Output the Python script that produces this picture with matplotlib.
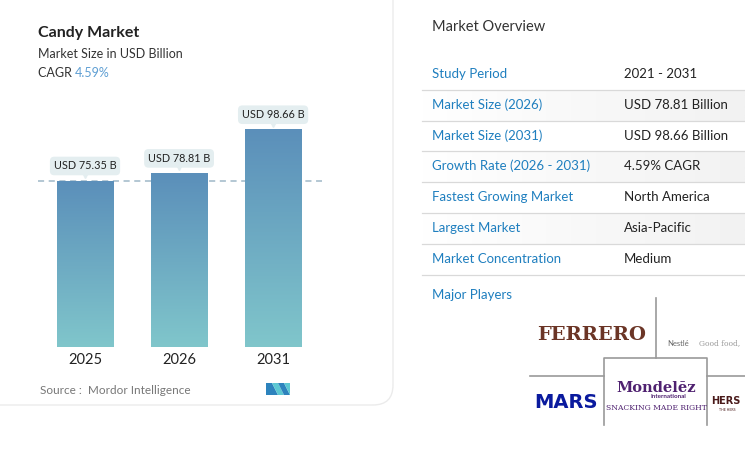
import numpy as np
import matplotlib
matplotlib.use("Agg")
import matplotlib.pyplot as plt
from matplotlib.patches import FancyBboxPatch, Polygon
from matplotlib.colors import LinearSegmentedColormap
from matplotlib.transforms import ScaledTranslation

# ---------------- data ----------------
years = ["2025", "2026", "2031"]
values = [75.35, 78.81, 98.66]
value_labels = ["USD 75.35 B", "USD 78.81 B", "USD 98.66 B"]
title = "Candy Market"
subtitle = "Market Size in USD Billion"
cagr = "4.59%"
source = "Source :  Mordor Intelligence"

overview_keys = ["Study Period", "Market Size (2026)", "Market Size (2031)",
                 "Growth Rate (2026 - 2031)", "Fastest Growing Market",
                 "Largest Market", "Market Concentration"]
overview_vals = ["2021 - 2031", "USD 78.81 Billion", "USD 98.66 Billion",
                 "4.59% CAGR", "North America", "Asia-Pacific", "Medium"]

FONT = "Lato"
W, H = 745, 450
fig = plt.figure(figsize=(W / 100, H / 100), dpi=100)
fig.patch.set_facecolor("white")

# pixel-coordinate overlay for layout
bg = fig.add_axes([0, 0, 1, 1])
bg.axis("off")

# card
card = FancyBboxPatch((-30, -30), 423, 435, boxstyle="round,pad=0,rounding_size=20",
                      fc="white", ec="#ebebeb", lw=1.0, zorder=0)
bg.add_patch(card)

# header texts
bg.text(38, 33, title, fontsize=11.5, fontweight="bold", color="#222222",
        family=FONT, va="center", ha="left")
bg.text(38, 54, subtitle, fontsize=9, color="#333333", family=FONT, va="center")
t = bg.text(38, 73, "CAGR ", fontsize=9, color="#333333", family=FONT, va="center")
fig.canvas.draw()
bb = t.get_window_extent()
bg.text(38 + bb.width, 73, cagr, fontsize=9, color="#5f9fd3", family=FONT, va="center")

# ---------------- bar axes ----------------
px_per_unit = 2.1995
base_px, top_px = 347, 100
left_px, right_px = 38, 322
ax = fig.add_axes([left_px / W, (H - base_px) / H, (right_px - left_px) / W,
                   (base_px - top_px) / H])
ax.set_xlim(-0.5, 2.52)
ax.set_ylim(0, (base_px - top_px) / px_per_unit)
ax.axis("off")
ax.patch.set_alpha(0)

cmap = LinearSegmentedColormap.from_list("g", ["#80c6cb", "#5b8fba"])
grad = np.linspace(0, 1, 256).reshape(-1, 1)
bw = 0.596
xs = np.arange(len(years))
for x, v, lab in zip(xs, values, value_labels):
    ax.imshow(grad, extent=[x - bw / 2, x + bw / 2, 0, v], origin="lower",
              cmap=cmap, aspect="auto", zorder=2)
    ax.annotate(lab, (x, v), xytext=(0, 11), textcoords="offset points",
                ha="center", va="center", fontsize=7.8, color="#222222", family=FONT,
                bbox=dict(boxstyle="round,pad=0.35,rounding_size=0.4", fc="#e4eef0",
                          ec="none"), zorder=5)
    ax.plot([x], [v], marker="v", markersize=5, color="#e4eef0",
            transform=ax.transData + ScaledTranslation(0, 4.5 / 72, fig.dpi_scale_trans),
            zorder=4, clip_on=False)
    ax.text(x, 0, years[x], transform=ax.transData + ScaledTranslation(
        0, -9.5 / 72, fig.dpi_scale_trans), ha="center", va="center", fontsize=10.5,
        color="#222222", family=FONT)
ax.axhline(values[0], color="#9fb8c8", lw=1.1, ls=(0, (4, 3)), zorder=1)

# source + logo
bg.text(40, 390, source, fontsize=8.5, color="#777777", family=FONT, va="center")
logo = [
    ([(266, 395), (266, 383), (272, 383), (278, 395)], "#2d83bd"),
    ([(272, 383), (278, 383), (284, 395), (278, 395)], "#5cc8d2"),
    ([(278, 383), (284, 383), (290, 395), (284, 395)], "#2d83bd"),
    ([(284, 383), (290, 383), (290, 395)], "#5cc8d2"),
]
for pts, c in logo:
    bg.add_patch(Polygon(pts, closed=True, fc=c, ec="none"))

# ---------------- right panel ----------------
bg.text(432, 27, "Market Overview", fontsize=10.5, color="#333333", family=FONT,
        va="center")
row_y = [74, 105, 136, 166, 197, 228, 259]
sep_y = [90, 121, 151, 182, 213, 244, 275]
hgrad = np.linspace(0, 1, 256).reshape(1, -1)
gcmap = LinearSegmentedColormap.from_list("h", ["#ffffff", "#f2f2f2"])
for i in (1, 3, 5):
    bg.imshow(hgrad, extent=[422, 745, sep_y[i], sep_y[i - 1]], cmap=gcmap,
              aspect="auto", zorder=0)
for y, k, v in zip(row_y, overview_keys, overview_vals):
    bg.text(432, y, k, fontsize=9.5, color="#1f7fbf", family=FONT, va="center")
    bg.text(624, y, v, fontsize=9.5, color="#222222", family=FONT, va="center")
for y in sep_y:
    bg.plot([422, 745], [y, y], color="#d9d9d9", lw=0.9)
bg.text(432, 295, "Major Players", fontsize=9.5, color="#1f7fbf", family=FONT,
        va="center")

# logos (text approximations)
bg.plot([656, 656], [298, 358], color="#9a9a9a", lw=1.2)
bg.plot([530, 604], [376, 376], color="#9a9a9a", lw=1.2)
bg.plot([707, 745], [376, 376], color="#9a9a9a", lw=1.2)
bg.plot([604, 604, 707, 707], [425, 358, 358, 425], color="#9a9a9a", lw=1.2)
bg.text(592, 335, "FERRERO", fontsize=14, fontweight="heavy", color="#6b3526",
        family="DejaVu Serif", ha="center", va="center")
bg.text(667, 343, "Nestlé", fontsize=5.5, color="#666666", family=FONT, va="center")
bg.text(699, 343, "Good food,", fontsize=5.5, color="#999999",
        family="DejaVu Serif", va="center")
bg.text(566, 403, "MARS", fontsize=14, fontweight="bold", color="#0a1a9e",
        family="DejaVu Sans", ha="center", va="center")
bg.text(656, 388, "Mondelēz", fontsize=10.5, fontweight="bold", color="#4f2170",
        family="DejaVu Serif", ha="center", va="center")
bg.text(668, 397, "International", fontsize=4.5, fontweight="bold", color="#4f2170",
        family=FONT, ha="center", va="center")
bg.text(656, 408, "SNACKING MADE RIGHT", fontsize=5.5, color="#4f2170",
        family="DejaVu Serif", ha="center", va="center")
bg.text(741, 401, "HERS", fontsize=7, fontweight="bold", color="#4a1a1a",
        family="DejaVu Sans", va="center", ha="right")
bg.text(719, 410, "THE HERS", fontsize=2.5, color="#4a1a1a", family=FONT, va="center")

bg.set_xlim(0, W)
bg.set_ylim(H, 0)

fig.savefig("out.png", dpi=100, facecolor="white")
